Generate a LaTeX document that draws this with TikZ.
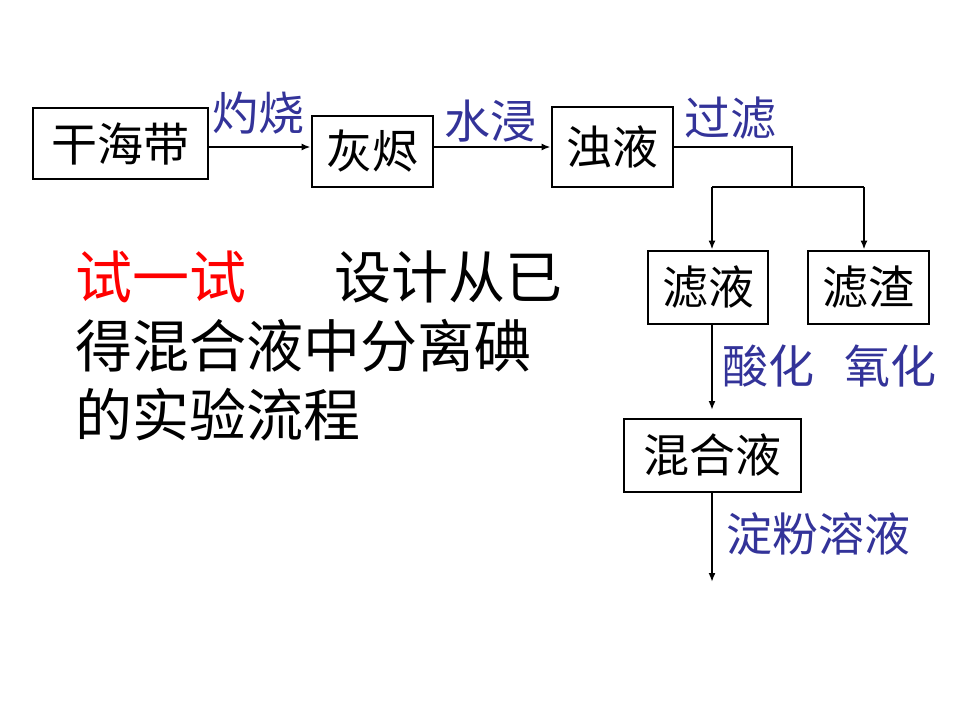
\documentclass[tikz,border=0pt]{standalone}
\usepackage{fontspec}
\setmainfont{Noto Sans CJK SC}
\usetikzlibrary{arrows.meta}
\definecolor{lblue}{RGB}{51,51,153}
\tikzset{
  box/.style={draw, line width=2.8pt, inner sep=0pt, font=\fontsize{46}{46}\selectfont},
  lbl/.style={text=lblue, inner sep=0pt, font=\fontsize{46}{46}\selectfont},
  conn/.style={line width=2.3pt},
  arr/.style={conn, -{Latex[length=9pt,width=7pt]}},
  big/.style={inner sep=0pt, anchor=west, font=\fontsize{57}{57}\selectfont}
}
\begin{document}
\begin{tikzpicture}[x=1pt,y=-1pt]
\useasboundingbox (0,0) rectangle (960,720);
% boxes
\node[box, minimum width=175pt, minimum height=71pt] (b1) at (120.5,143.5) {干海带};
\node[box, minimum width=121pt, minimum height=71pt] (b2) at (372.5,151.5) {灰烬};
\node[box, minimum width=121pt, minimum height=80pt] (b3) at (612.5,147) {浊液};
\node[box, minimum width=120pt, minimum height=73pt] (b4) at (708,287.5) {滤液};
\node[box, minimum width=121pt, minimum height=73pt] (b5) at (868.5,287.5) {滤渣};
\node[box, minimum width=177pt, minimum height=73pt] (b6) at (712.5,455.5) {混合液};
% helper coordinates
\coordinate (r1) at (0,147);
\coordinate (j0) at (792,187);
\coordinate (jl) at (712,187);
\coordinate (jr) at (864,187);
\coordinate (c1) at (712,410);
\coordinate (c2) at (712,582);
% connectors
\draw[arr] (b1.east|-r1) -- (b2.west|-r1);
\draw[arr] (b2.east|-r1) -- (b3.west|-r1);
\draw[conn] (b3.east|-r1) -| (j0);
\draw[conn] (jl) -- (jr);
\draw[arr] (jl) -- (jl|-b4.north);
\draw[arr] (jr) -- (jr|-b5.north);
\draw[arr] (b4.south-|c1) -- (c1);
\draw[arr] (b6.south-|c2) -- (c2);
% labels
\node[lbl] (l1) at (258,113) {灼烧};
\node[lbl] (l2) at (490,121) {水浸};
\node[lbl] (l3) at (730,118) {过滤};
\node[lbl] (l4) at (768,366) {酸化};
\node[lbl] (l5) at (890,366) {氧化};
\node[lbl] (l6) at (818,534) {淀粉溶液};
% left text
\node[big] (t1) at (75,277) {\textcolor{red}{试一试}\hspace{88pt}设计从已};
\node[big] (t2) at (75,346) {得混合液中分离碘};
\node[big] (t3) at (75,415) {的实验流程};
\end{tikzpicture}
\end{document}
